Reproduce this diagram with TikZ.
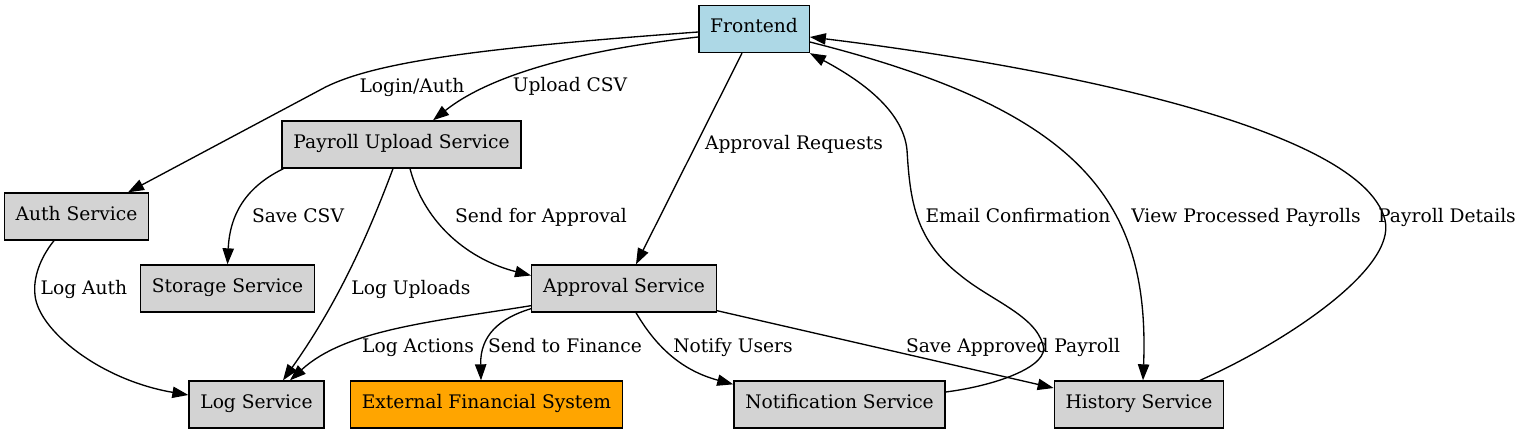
\documentclass[tikz,border=0pt]{standalone}
\usepackage{fontspec}
\setmainfont{DejaVu Serif}
\usetikzlibrary{arrows.meta,calc}

\definecolor{svcgray}{HTML}{D3D3D3}
\definecolor{feblue}{HTML}{ADD8E6}
\definecolor{extorange}{HTML}{FFA500}

\begin{document}
\begin{tikzpicture}[x=0.75pt,y=-0.75pt,
        service/.style={draw,rectangle,fill=svcgray,line width=1pt,minimum height=35.25pt,inner xsep=8.5pt,inner ysep=0pt,text height=0.8em,text depth=0.22em,font=\fontsize{14}{17}\selectfont},
        lbl/.style={anchor=base,inner sep=0pt,font=\fontsize{14}{17}\selectfont},
        flow/.style={-{Triangle[length=12pt,width=8.5pt]},line width=1pt}]

        \useasboundingbox (0,0) rectangle (1531,435);

        \node[service,fill=feblue] (fe) at (754,29) {Frontend};
        \node[service] (upload) at (401.5,144.5) {Payroll Upload Service};
        \node[service] (auth) at (76.5,216.5) {Auth Service};
        \node[service] (storage) at (227.5,288.5) {Storage Service};
        \node[service] (approval) at (624,288.5) {Approval Service};
        \node[service] (log) at (256.5,404.5) {Log Service};
        \node[service,fill=extorange] (ext) at (486.5,404.5) {External Financial System};
        \node[service] (notif) at (839.5,404.5) {Notification Service};
        \node[service] (hist) at (1139,404.5) {History Service};

        \draw[flow] ($(fe.west)+(0,3)$) .. controls (480,48) and (370,62) .. (320,90) -- ($(auth.north)+(51.5,0)$);
        \draw[flow] ($(fe.west)+(0,8)$) .. controls (580,50) and (490,75) .. ($(upload.north)+(31.5,0)$);
        \draw[flow] ($(fe.south)+(-12,0)$) -- ($(approval.north)+(12,0)$);
        \draw[flow] ($(notif.east)+(0,-12.5)$) .. controls (1000,385) and (1050,365) .. (1043,345)
                .. controls (1035,315) and (990,300) .. (960,275)
                .. controls (915,240) and (910,200) .. (907,150)
                .. controls (903,110) and (860,80) .. (fe.south east);
        \draw[flow] ($(fe.east)+(0,13)$) .. controls (1080,110) and (1150,200) .. ($(hist.north)+(4,0)$);
        \draw[flow] ($(hist.north)+(61,0)$) .. controls (1280,345) and (1397,270) .. (1385,220)
                .. controls (1360,120) and (1000,60) .. ($(fe.east)+(0,8)$);

        \draw[flow] ($(upload.south west)+(2,0)$) .. controls (250,185) and (230,210) .. (storage.north);
        \draw[flow] ($(upload.south)+(-8.5,0)$) .. controls (370,230) and (340,300) .. ($(log.north)+(26.5,0)$);
        \draw[flow] ($(upload.south)+(8.5,0)$) .. controls (425,225) and (470,260) .. ($(approval.west)+(0,-13)$);
        \draw[flow] ($(auth.south)+(-22.5,0)$) .. controls (40,258) and (33,278) .. (35,295)
                .. controls (38,330) and (100,380) .. ($(log.west)+(0,-9.5)$);

        \draw[flow] ($(approval.south west)+(0,-7)$) .. controls (430,322) and (345,330) .. ($(log.north)+(33.5,0)$);
        \draw[flow] ($(approval.south west)+(0,-4)$) .. controls (500,318) and (480,335) .. ($(ext.north)+(-5.5,0)$);
        \draw[flow] ($(approval.south)+(12,0)$) .. controls (655,345) and (680,370) .. ($(notif.north west)+(0,4)$);
        \draw[flow] ($(approval.south east)+(0,-2)$) -- ($(hist.west)+(0,-16.5)$);

        \node[lbl] (llogin) at (412,92.5) {Login/Auth};
        \node[lbl] (lupcsv) at (570,91.5) {Upload CSV};
        \node[lbl] (lapreq) at (794,149.5) {Approval Requests};
        \node[lbl] (lsave) at (298,222.5) {Save CSV};
        \node[lbl] (lsend) at (541,222.5) {Send for Approval};
        \node[lbl] (lemail) at (1018,222.5) {Email Confirmation};
        \node[lbl] (lview) at (1246,222.5) {View Processed Payrolls};
        \node[lbl] (ldetail) at (1447,222.5) {Payroll Details};
        \node[lbl] (llogauth) at (84,294.5) {Log Auth};
        \node[lbl] (llogup) at (411,294.5) {Log Uploads};
        \node[lbl] (llogact) at (418,352.5) {Log Actions};
        \node[lbl] (lfin) at (565,352.5) {Send to Finance};
        \node[lbl] (lnotify) at (733,352.5) {Notify Users};
        \node[lbl] (lsaveap) at (1013,352.5) {Save Approved Payroll};
      \end{tikzpicture}
\end{document}
